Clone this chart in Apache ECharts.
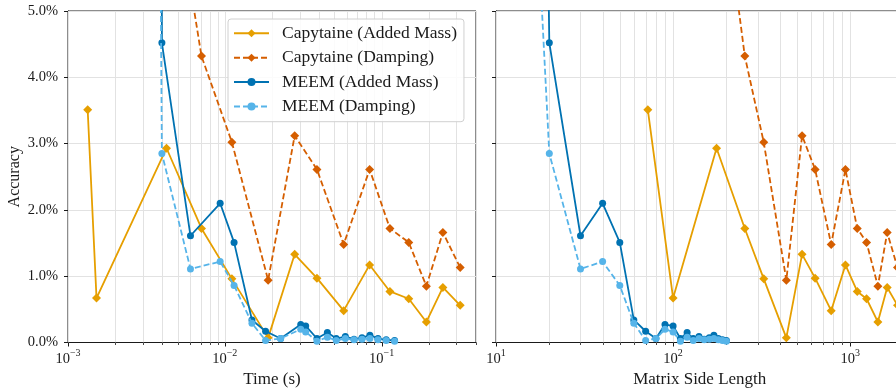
<!DOCTYPE html>
<html>
<head>
<meta charset="utf-8">
<script src="https://cdn.jsdelivr.net/npm/echarts@6/dist/echarts.min.js"></script>
<style>
  html, body { margin: 0; padding: 0; background: #ffffff; }
  #chart { width: 896px; height: 391px; }
</style>
</head>
<body>
<div id="chart"></div>
<script>
// Capytaine runs: solve time (s), matrix side length, relative error (%)
const capyTime = [0.001335, 0.00152, 0.00425, 0.0071, 0.0111, 0.0189, 0.0279, 0.0387, 0.0573, 0.0839, 0.113, 0.149, 0.193, 0.246, 0.317];
const capySize = [72, 100, 176, 254, 325, 436, 535, 634, 781, 940, 1096, 1237, 1433, 1618, 1850];
const capyAddedMass = [3.51, 0.67, 2.93, 1.72, 0.96, 0.07, 1.33, 0.97, 0.48, 1.17, 0.77, 0.66, 0.31, 0.83, 0.56];
const capyDamping = [12.5, 10.8, 7.6, 4.32, 3.02, 0.94, 3.12, 2.61, 1.48, 2.61, 1.72, 1.51, 0.85, 1.66, 1.13];

// MEEM runs
const meemTime = [0.00357, 0.00397, 0.00604, 0.00934, 0.01146, 0.0149, 0.0182, 0.0227, 0.0305, 0.0328, 0.0387, 0.0451, 0.0514, 0.0587, 0.0667, 0.075, 0.0842, 0.0948, 0.107, 0.121];
const meemSize = [10, 20, 30, 40, 50, 60, 70, 80, 90, 100, 110, 120, 130, 140, 150, 160, 170, 180, 190, 200];
const meemAddedMass = [60, 4.52, 1.61, 2.10, 1.51, 0.34, 0.17, 0.06, 0.27, 0.25, 0.06, 0.15, 0.06, 0.09, 0.05, 0.07, 0.11, 0.06, 0.04, 0.03];
const meemDamping = [18.5, 2.85, 1.11, 1.22, 0.86, 0.29, 0.03, 0.06, 0.20, 0.16, 0.02, 0.08, 0.03, 0.06, 0.04, 0.05, 0.06, 0.04, 0.03, 0.02];

// Axis ranges and tick decades
const timeRange = [0.001, 0.4];
const sizeRange = [10, 2000];
const timeDecades = [-3, -2, -1];
const sizeDecades = [1, 2, 3];
const logMultipliers = [1, 2, 3, 4, 5, 6, 7, 8, 9];
const accuracyRange = [0, 5];
const accuracyStep = 1;

const seriesNames = ['Capytaine (Added Mass)', 'Capytaine (Damping)', 'MEEM (Added Mass)', 'MEEM (Damping)'];
const colors = ['#E69F00', '#D55E00', '#0072B2', '#56B4E9'];

const FONT = '"Liberation Serif", "DejaVu Serif", serif';
const INK = '#1a1a1a';
const GRID_GRAY = '#e2e2e2';

function logGridValues(decades, range) {
  const out = [];
  decades.forEach(d => logMultipliers.forEach(m => {
    const v = m * Math.pow(10, d);
    if (v >= range[0] * 0.999 && v <= range[1] * 1.001) out.push(v);
  }));
  return out;
}

function isPow10(v) {
  const l = Math.log10(v);
  return Math.abs(l - Math.round(l)) < 1e-6;
}

function pow10Label(v) {
  if (!isPow10(v)) return '';
  const e = Math.round(Math.log10(v));
  const exp = e < 0 ? '\u2212' + Math.abs(e) : String(e);
  return '{b|10}{s|' + exp + '}';
}

// vertical grid lines (major + minor) and tick marks on the log axes
function logGridSeries(idx, values) {
  return {
    type: 'custom',
    xAxisIndex: idx,
    yAxisIndex: idx,
    silent: true,
    z: 1,
    animation: false,
    data: values.map(v => [v, 0]),
    renderItem: function (params, api) {
      const v = api.value(0);
      const bottom = api.coord([v, accuracyRange[0]]);
      const top = api.coord([v, accuracyRange[1]]);
      const x = Math.round(bottom[0]) + 0.5;
      const major = isPow10(v);
      return {
        type: 'group',
        children: [
          { type: 'line', shape: { x1: x, y1: top[1], x2: x, y2: bottom[1] },
            style: { stroke: GRID_GRAY, lineWidth: 1 } },
          { type: 'line', shape: { x1: x, y1: bottom[1], x2: x, y2: bottom[1] + (major ? 4 : 2.5) },
            style: { stroke: INK, lineWidth: major ? 1 : 0.8 } }
        ]
      };
    }
  };
}

function lineSeries(k, xs, ys, idx, dashed, symbol, size) {
  return {
    name: seriesNames[k],
    type: 'line',
    xAxisIndex: idx,
    yAxisIndex: idx,
    data: xs.map((x, i) => [x, ys[i]]),
    clip: true,
    symbol: symbol,
    symbolSize: size,
    showSymbol: true,
    showAllSymbol: true,
    animation: false,
    z: 3 + k,
    emphasis: { disabled: true },
    lineStyle: { color: colors[k], width: 1.8, type: dashed ? [6, 3] : 'solid' },
    itemStyle: { color: colors[k] }
  };
}

function xAxis(idx, range, name) {
  return {
    type: 'log',
    logBase: 10,
    gridIndex: idx,
    min: range[0],
    max: range[1],
    name: name,
    nameLocation: 'middle',
    nameGap: 28,
    nameTextStyle: { fontFamily: FONT, fontSize: 17, color: INK },
    axisLine: { show: true, onZero: false, lineStyle: { color: INK, width: 1 } },
    axisTick: { show: false },
    splitLine: { show: false },
    minorTick: { show: false },
    axisLabel: {
      interval: 0,
      margin: 6,
      showMinLabel: true,
      showMaxLabel: true,
      hideOverlap: false,
      formatter: pow10Label,
      rich: {
        b: { fontFamily: FONT, fontSize: 14.5, color: INK, verticalAlign: 'bottom', lineHeight: 18 },
        s: { fontFamily: FONT, fontSize: 10, color: INK, verticalAlign: 'top', lineHeight: 18 }
      }
    }
  };
}

function yAxis(idx, showLabels) {
  return {
    type: 'value',
    gridIndex: idx,
    min: accuracyRange[0],
    max: accuracyRange[1],
    interval: accuracyStep,
    name: showLabels ? 'Accuracy' : '',
    nameLocation: 'middle',
    nameGap: 45,
    nameTextStyle: { fontFamily: FONT, fontSize: 16, color: INK },
    axisLine: { show: true, onZero: false, lineStyle: { color: INK, width: 1 } },
    axisTick: { show: true, inside: false, length: 4, lineStyle: { color: INK, width: 1 } },
    splitLine: { show: true, lineStyle: { color: GRID_GRAY, width: 1 } },
    axisLabel: {
      show: showLabels,
      margin: 10,
      fontFamily: FONT,
      fontSize: 14.5,
      color: INK,
      formatter: v => v.toFixed(1) + '%'
    }
  };
}

const chart = echarts.init(document.getElementById('chart'), null, { renderer: 'canvas' });

chart.setOption({
  animation: false,
  backgroundColor: '#ffffff',
  grid: [
    { left: 68, top: 11, width: 408, height: 331.5, show: true, borderColor: INK, borderWidth: 1,
      backgroundColor: 'transparent', containLabel: false, outerBoundsMode: 'none' },
    { left: 496, top: 11, width: 407.5, height: 331.5, show: true, borderColor: INK, borderWidth: 1,
      backgroundColor: 'transparent', containLabel: false, outerBoundsMode: 'none' }
  ],
  xAxis: [
    xAxis(0, timeRange, 'Time (s)'),
    xAxis(1, sizeRange, 'Matrix Side Length')
  ],
  yAxis: [
    yAxis(0, true),
    yAxis(1, false)
  ],
  legend: {
    data: seriesNames,
    orient: 'vertical',
    left: 228,
    top: 19,
    itemWidth: 35,
    itemHeight: 10,
    itemGap: 6.4,
    padding: [5.3, 7, 6.2, 5],
    backgroundColor: 'rgba(255,255,255,0.85)',
    borderColor: '#d0d0d0',
    borderWidth: 1,
    borderRadius: 3,
    selectedMode: false,
    textStyle: { fontFamily: FONT, fontSize: 17.5, lineHeight: 18, color: INK, padding: [0, 0, 0, 8] }
  },
  series: [
    logGridSeries(0, logGridValues(timeDecades, timeRange)),
    logGridSeries(1, logGridValues(sizeDecades, sizeRange)),

    lineSeries(0, capyTime, capyAddedMass, 0, false, 'diamond', 9),
    lineSeries(1, capyTime, capyDamping, 0, true, 'diamond', 9),
    lineSeries(2, meemTime, meemAddedMass, 0, false, 'circle', 7),
    lineSeries(3, meemTime, meemDamping, 0, true, 'circle', 7),

    lineSeries(0, capySize, capyAddedMass, 1, false, 'diamond', 9),
    lineSeries(1, capySize, capyDamping, 1, true, 'diamond', 9),
    lineSeries(2, meemSize, meemAddedMass, 1, false, 'circle', 7),
    lineSeries(3, meemSize, meemDamping, 1, true, 'circle', 7)
  ]
});
</script>
</body>
</html>
